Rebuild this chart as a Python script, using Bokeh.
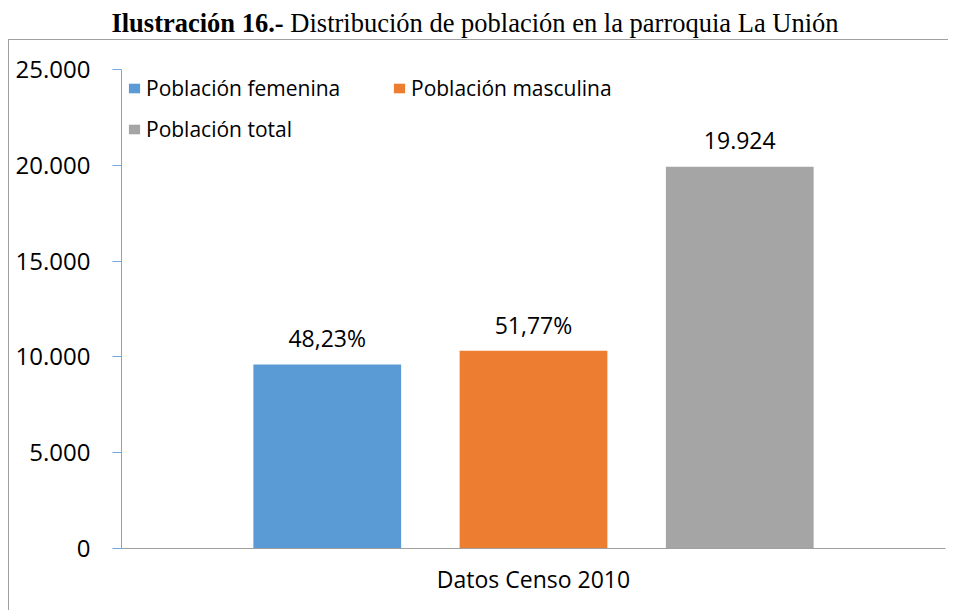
from bokeh.plotting import figure
from bokeh.models import (FactorRange, Range1d, LinearAxis, CategoricalAxis, FixedTicker,
                          Legend, LegendItem, Div, ColumnDataSource)
from bokeh.layouts import column
from bokeh.transform import dodge
from bokeh.core.properties import value
from bokeh.embed import file_html
from bokeh.resources import INLINE

# ---- data ----
category = ["Datos Censo 2010"]
series = ["Población femenina", "Población masculina", "Población total"]
values = [9609, 10315, 19924]
bar_labels = ["48,23%", "51,77%", "19.924"]
colors = ["#5B9BD5", "#ED7D31", "#A5A5A5"]
y_ticks = [0, 5000, 10000, 15000, 20000, 25000]
y_tick_labels = ["0", "5.000", "10.000", "15.000", "20.000", "25.000"]
title_bold = "Ilustración 16.-"
title_rest = " Distribución de población en la parroquia La Unión"

FONT = "Open Sans"

p = figure(x_range=FactorRange(*category), y_range=Range1d(0, 25000),
           width=940, height=571, output_backend="svg", toolbar_location=None,
           x_axis_location=None, y_axis_location=None,
           min_border_left=112, min_border_right=4, min_border_top=29, min_border_bottom=63)
p.margin = (0, 0, 0, 9)
p.outline_line_color = None
p.xgrid.grid_line_color = None
p.ygrid.grid_line_color = None
p.background_fill_color = "white"
p.border_fill_color = "white"
p.styles = {"box-shadow": "-1px -1px 0 0 #a0a0a0"}

# y axis
yax = LinearAxis(ticker=FixedTicker(ticks=y_ticks),
                 major_label_overrides={t: l for t, l in zip(y_ticks, y_tick_labels)})
yax.axis_line_color = "#6FA8DC"
yax.major_tick_line_color = "#6FA8DC"
yax.major_tick_out = 9
yax.major_tick_in = 0
yax.minor_tick_line_color = None
yax.major_label_standoff = 22
yax.major_label_text_font = FONT
yax.major_label_text_font_size = "24px"
yax.major_label_text_color = "black"
p.add_layout(yax, "left")

# x axis line with ticks at the category edges
p.extra_x_ranges = {"edges": FactorRange(" ", "  ", range_padding=-0.5,
                                         range_padding_units="absolute")}
tax = CategoricalAxis(x_range_name="edges")
tax.axis_line_color = "#A0A0A0"
tax.major_tick_line_color = "#A0A0A0"
tax.major_tick_out = 9
tax.major_tick_in = 0
tax.minor_tick_line_color = None
tax.major_label_text_font_size = "1px"
tax.major_label_text_color = None
tax.major_label_standoff = 0
p.add_layout(tax, "below")

cax = CategoricalAxis()
cax.axis_line_color = None
cax.major_tick_line_color = None
cax.major_label_standoff = 8
cax.major_label_text_font = FONT
cax.major_label_text_font_size = "23px"
cax.major_label_text_color = "black"
p.add_layout(cax, "below")

offsets = [-0.2503, 0.0, 0.2503]
renderers = []
for i, (s, v, lab, c, off) in enumerate(zip(series, values, bar_labels, colors, offsets)):
    src = ColumnDataSource(dict(x=category, top=[v], label=[lab]))
    r = p.vbar(x=dodge("x", off, range=p.x_range), top="top", width=0.1793, source=src,
               fill_color=c, line_color=None)
    p.text(x=dodge("x", off, range=p.x_range), y="top", text="label", source=src,
           text_align="center", text_baseline="alphabetic", y_offset=-26,
           text_font=value(FONT), text_font_size="23px", text_color="black")
    renderers.append(r)

# legend: column-major filling -> order so rows read femenina, masculina / total
order = [0, 2, 1]
items = [LegendItem(label=series[k], renderers=[renderers[k]]) for k in order]
legend = Legend(items=items, ncols=2, location=(6, 405), orientation="vertical")
legend.border_line_color = None
legend.background_fill_alpha = 0
legend.padding = 0
legend.margin = 0
legend.glyph_width = 14
legend.glyph_height = 12
legend.label_height = 28
legend.label_width = 233
legend.label_standoff = 5
legend.spacing = 13
legend.label_text_font = FONT
legend.label_text_font_size = "21px"
legend.label_text_color = "black"
p.add_layout(legend, "center")

title_html = (
    '<div style="font-family:\'Liberation Serif\';font-size:26.5px;line-height:30px;'
    'width:897px;padding-top:3px;padding-left:43px;text-align:center;white-space:nowrap;color:black">'
    f'<b>{title_bold}</b>{title_rest}</div>'
)
title = Div(text=title_html, width=940, height=30)

layout = column(title, p, spacing=0)
open("out.html", "w").write(file_html(layout, INLINE))
